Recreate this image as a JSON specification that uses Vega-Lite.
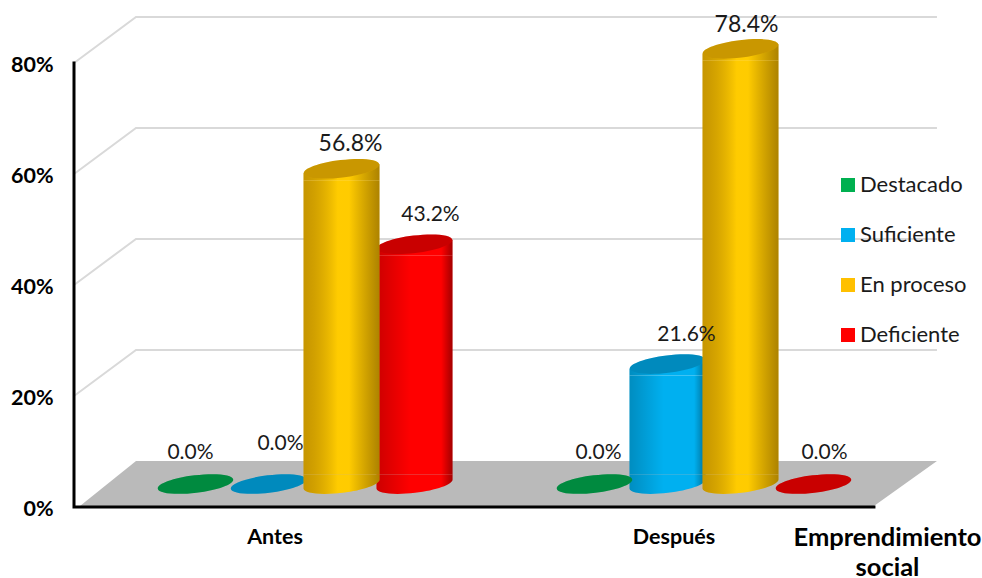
{
"$schema":"https://vega.github.io/schema/vega-lite/v6.json",
"width":908,"height":507,
"autosize":{"type":"none"},
"padding":{"left":74,"top":0,"right":0,"bottom":71},
"background":"white",
"config":{"view":{"stroke":null},"font":"Lato"},
"datasets":{
"filas":[
{"periodo":"Antes","nivel":"Destacado","valor":0},
{"periodo":"Antes","nivel":"Suficiente","valor":0},
{"periodo":"Antes","nivel":"En proceso","valor":0.568},
{"periodo":"Antes","nivel":"Deficiente","valor":0.432},
{"periodo":"Después","nivel":"Destacado","valor":0},
{"periodo":"Después","nivel":"Suficiente","valor":0.216},
{"periodo":"Después","nivel":"En proceso","valor":0.784},
{"periodo":"Después","nivel":"Deficiente","valor":0}
],
"suelo":[
{"y":0.0018,"a":0.66,"b":88.1},
{"y":0.083,"a":6.83,"b":95.04}
],
"marco":[
{"linea":"20","orden":1,"x":0,"y":0.2},{"linea":"20","orden":2,"x":6.83,"y":0.283},{"linea":"20","orden":3,"x":95.04,"y":0.283},
{"linea":"40","orden":1,"x":0,"y":0.4},{"linea":"40","orden":2,"x":6.83,"y":0.483},{"linea":"40","orden":3,"x":95.04,"y":0.483},
{"linea":"60","orden":1,"x":0,"y":0.6},{"linea":"60","orden":2,"x":6.83,"y":0.683},{"linea":"60","orden":3,"x":95.04,"y":0.683},
{"linea":"80","orden":1,"x":0,"y":0.8},{"linea":"80","orden":2,"x":6.83,"y":0.883},{"linea":"80","orden":3,"x":95.04,"y":0.883}
],
"ejes":[
{"linea":"y","orden":1,"x":0,"y":0.8},{"linea":"y","orden":2,"x":0,"y":0},{"linea":"y","orden":3,"x":88.1,"y":0}
]
},
"layer":[
{"layer":[
{"data":{"name":"suelo"},"mark":{"type":"area","orient":"horizontal","fill":"#BABABA"},
 "encoding":{"y":{"field":"y","type":"quantitative","scale":{"domain":[0,0.9135],"nice":false},
 "axis":{"values":[0,0.2,0.4,0.6,0.8],"format":".0%","title":null,"domain":false,"ticks":false,"grid":false,"labelPadding":21,"labelFontSize":21.5,"labelFontWeight":"bold","labelColor":"#000000","labelOffset":2.5}},
 "x":{"field":"a","type":"quantitative","scale":{"domain":[0,100],"nice":false},"axis":null},"x2":{"field":"b"}}},
{"data":{"name":"marco"},"mark":{"type":"line","stroke":"#D9D9D9","strokeWidth":2},
 "encoding":{"x":{"field":"x","type":"quantitative"},"y":{"field":"y","type":"quantitative"},"detail":{"field":"linea"},"order":{"field":"orden"}}},
{"data":{"name":"ejes"},"mark":{"type":"line","stroke":"#000000","strokeWidth":3,"strokeCap":"square"},
 "encoding":{"x":{"field":"x","type":"quantitative"},"y":{"field":"y","type":"quantitative"},"detail":{"field":"linea"},"order":{"field":"orden"}}}
]},
{"data":{"name":"filas"},
 "encoding":{
  "x":{"field":"periodo","type":"nominal","sort":["Antes","Después"],
   "scale":{"domain":["Antes","Después"],"range":[85,776],"paddingInner":0.26817,"paddingOuter":0},
   "axis":{"orient":"bottom","labelAngle":0,"labelOffset":-30,"domain":false,"ticks":false,"grid":false,"labelPadding":19,"labelFontSize":21.5,"labelFontWeight":"bold","labelColor":"#000000",
    "title":["Emprendimiento","social"],"titleX":813,"titleY":38,"titleAnchor":"middle","titleAlign":"center","titleBaseline":"alphabetic","titleFontSize":25.5,"titleFontWeight":"bold","titleColor":"#000000","titleLineHeight":30}},
  "xOffset":{"field":"nivel","type":"nominal","sort":["Destacado","Suficiente","En proceso","Deficiente"],"scale":{"domain":["Destacado","Suficiente","En proceso","Deficiente"],"paddingInner":0,"paddingOuter":0}},
  "y":{"field":"valor","type":"quantitative","scale":{"domain":[-0.0414,0.8721],"nice":false},"axis":null}
 },
 "layer":[
 {"transform":[{"filter":"datum.periodo==='Antes' && datum.nivel==='Suficiente'"}],"mark":{"type":"text","dx":12,"dy":-40,"fontSize":21,"color":"#1a1a1a"},"encoding":{"text":{"field":"valor","type":"quantitative","format":".1%"}}},
 {"transform":[{"filter":"datum.nivel!=='En proceso' && datum.valor>0"}],
  "layer":[
  {"mark":{"type":"point","filled":true,"opacity":1,"size":5776,"shape":"M-1,-0.25 L1,-0.25 L1,-0.12 A1,0.23 -7 0,1 -1,0.12 Z"},
   "encoding":{"color":{"field":"nivel","type":"nominal","scale":{"domain":["Destacado","Suficiente","En proceso","Deficiente"],"range":["#00B050","#00B0F0","#FFC000","#FF0000"]},
   "legend":{"orient":"none","legendX":763,"legendY":174,"title":null,"symbolType":"square","symbolSize":196,"symbolOpacity":1,"symbolStrokeWidth":0,"labelFontSize":22,"labelColor":"#1a1a1a","rowPadding":28,"labelOffset":1,"values":["Destacado","Suficiente","En proceso","Deficiente"]}},
   "y":{"datum":0,"type":"quantitative"}}},
  {"mark":{"type":"point","filled":true,"opacity":1,"size":5776,"fill":{"gradient":"linear","x1":0,"x2":1,"y1":0,"y2":0,"stops":[{"offset":0,"color":"rgba(0,0,0,0.2)"},{"offset":0.45,"color":"rgba(0,0,0,0)"},{"offset":0.85,"color":"rgba(0,0,0,0)"},{"offset":1,"color":"rgba(0,0,0,0.36)"}]},"shape":"M-1,-0.25 L1,-0.25 L1,-0.12 A1,0.23 -7 0,1 -1,0.12 Z"},"encoding":{"y":{"datum":0,"type":"quantitative"}}},
  {"mark":{"type":"bar","width":76,"yOffset":11.4},"encoding":{"y2":{"datum":0.01712},"color":{"field":"nivel","type":"nominal"}}},
  {"mark":{"type":"bar","width":76,"yOffset":11.4,"fill":{"gradient":"linear","x1":0,"x2":1,"y1":0,"y2":0,"stops":[{"offset":0,"color":"rgba(0,0,0,0.2)"},{"offset":0.45,"color":"rgba(0,0,0,0)"},{"offset":0.85,"color":"rgba(0,0,0,0)"},{"offset":1,"color":"rgba(0,0,0,0.36)"}]}},"encoding":{"y2":{"datum":0.01712}}},
  {"mark":{"type":"point","filled":true,"opacity":1,"size":5776,"shape":"M-1,0.12 L1,-0.12 L1,0.3 L-1,0.3 Z"},"encoding":{"color":{"field":"nivel","type":"nominal"}}},
  {"mark":{"type":"point","filled":true,"opacity":1,"size":5776,"fill":{"gradient":"linear","x1":0,"x2":1,"y1":0,"y2":0,"stops":[{"offset":0,"color":"rgba(0,0,0,0.2)"},{"offset":0.45,"color":"rgba(0,0,0,0)"},{"offset":0.85,"color":"rgba(0,0,0,0)"},{"offset":1,"color":"rgba(0,0,0,0.36)"}]},"shape":"M-1,0.12 L1,-0.12 L1,0.3 L-1,0.3 Z"}}
  ]},
 {"transform":[{"filter":"datum.nivel!=='En proceso'"}],
  "layer":[
  {"mark":{"type":"point","filled":true,"opacity":1,"angle":-7,"size":5776,"shape":"M-1,0 A1,0.23 0 1,1 1,0 A1,0.23 0 1,1 -1,0 Z"},"encoding":{"color":{"field":"nivel","type":"nominal"}}},
  {"mark":{"type":"point","filled":true,"fill":"#000000","opacity":0.21,"angle":-7,"size":5776,"shape":"M-1,0 A1,0.23 0 1,1 1,0 A1,0.23 0 1,1 -1,0 Z"}}
  ]},
 {"transform":[{"filter":"datum.nivel==='En proceso'"}],
  "layer":[
  {"mark":{"type":"point","filled":true,"opacity":1,"size":5776,"shape":"M-1,-0.25 L1,-0.25 L1,-0.12 A1,0.23 -7 0,1 -1,0.12 Z"},"encoding":{"color":{"field":"nivel","type":"nominal"},"y":{"datum":0,"type":"quantitative"}}},
  {"mark":{"type":"point","filled":true,"opacity":1,"size":5776,"fill":{"gradient":"linear","x1":0,"x2":1,"y1":0,"y2":0,"stops":[{"offset":0,"color":"rgba(0,0,0,0.22)"},{"offset":0.45,"color":"rgba(255,225,0,0.35)"},{"offset":0.6,"color":"rgba(255,225,0,0.35)"},{"offset":1,"color":"rgba(0,0,0,0.32)"}]},"shape":"M-1,-0.25 L1,-0.25 L1,-0.12 A1,0.23 -7 0,1 -1,0.12 Z"},"encoding":{"y":{"datum":0,"type":"quantitative"}}},
  {"mark":{"type":"bar","width":76,"yOffset":11.4},"encoding":{"y2":{"datum":0.01712},"color":{"field":"nivel","type":"nominal"}}},
  {"mark":{"type":"bar","width":76,"yOffset":11.4,"fill":{"gradient":"linear","x1":0,"x2":1,"y1":0,"y2":0,"stops":[{"offset":0,"color":"rgba(0,0,0,0.22)"},{"offset":0.45,"color":"rgba(255,225,0,0.35)"},{"offset":0.6,"color":"rgba(255,225,0,0.35)"},{"offset":1,"color":"rgba(0,0,0,0.32)"}]}},"encoding":{"y2":{"datum":0.01712}}},
  {"mark":{"type":"point","filled":true,"opacity":1,"size":5776,"shape":"M-1,0.12 L1,-0.12 L1,0.3 L-1,0.3 Z"},"encoding":{"color":{"field":"nivel","type":"nominal"}}},
  {"mark":{"type":"point","filled":true,"opacity":1,"size":5776,"fill":{"gradient":"linear","x1":0,"x2":1,"y1":0,"y2":0,"stops":[{"offset":0,"color":"rgba(0,0,0,0.22)"},{"offset":0.45,"color":"rgba(255,225,0,0.35)"},{"offset":0.6,"color":"rgba(255,225,0,0.35)"},{"offset":1,"color":"rgba(0,0,0,0.32)"}]},"shape":"M-1,0.12 L1,-0.12 L1,0.3 L-1,0.3 Z"}},
  {"mark":{"type":"point","filled":true,"opacity":1,"angle":-7,"size":5776,"shape":"M-1,0 A1,0.23 0 1,1 1,0 A1,0.23 0 1,1 -1,0 Z"},"encoding":{"color":{"field":"nivel","type":"nominal"}}},
  {"mark":{"type":"point","filled":true,"fill":"#000000","opacity":0.21,"angle":-7,"size":5776,"shape":"M-1,0 A1,0.23 0 1,1 1,0 A1,0.23 0 1,1 -1,0 Z"}}
  ]},
 {"transform":[{"filter":"datum.periodo==='Antes' && datum.nivel==='Destacado'"}],"mark":{"type":"text","dx":-5,"dy":-31,"fontSize":21,"color":"#1a1a1a"},"encoding":{"text":{"field":"valor","type":"quantitative","format":".1%"}}},
 {"transform":[{"filter":"datum.periodo==='Antes' && datum.nivel==='En proceso'"}],"mark":{"type":"text","dx":9,"dy":-25,"fontSize":23,"color":"#1a1a1a"},"encoding":{"text":{"field":"valor","type":"quantitative","format":".1%"}}},
 {"transform":[{"filter":"datum.periodo==='Antes' && datum.nivel==='Deficiente'"}],"mark":{"type":"text","dx":16,"dy":-29,"fontSize":21,"color":"#1a1a1a"},"encoding":{"text":{"field":"valor","type":"quantitative","format":".1%"}}},
 {"transform":[{"filter":"datum.periodo==='Después' && datum.nivel==='Destacado'"}],"mark":{"type":"text","dx":4,"dy":-31,"fontSize":21,"color":"#1a1a1a"},"encoding":{"text":{"field":"valor","type":"quantitative","format":".1%"}}},
 {"transform":[{"filter":"datum.periodo==='Después' && datum.nivel==='Suficiente'"}],"mark":{"type":"text","dx":19,"dy":-29,"fontSize":21,"color":"#1a1a1a"},"encoding":{"text":{"field":"valor","type":"quantitative","format":".1%"}}},
 {"transform":[{"filter":"datum.periodo==='Después' && datum.nivel==='En proceso'"}],"mark":{"type":"text","dx":6,"dy":-24,"fontSize":23,"color":"#1a1a1a"},"encoding":{"text":{"field":"valor","type":"quantitative","format":".1%"}}},
 {"transform":[{"filter":"datum.periodo==='Después' && datum.nivel==='Deficiente'"}],"mark":{"type":"text","dx":11,"dy":-31,"fontSize":21,"color":"#1a1a1a"},"encoding":{"text":{"field":"valor","type":"quantitative","format":".1%"}}}
 ]}
],
"resolve":{"scale":{"x":"independent","y":"independent"}}
}
